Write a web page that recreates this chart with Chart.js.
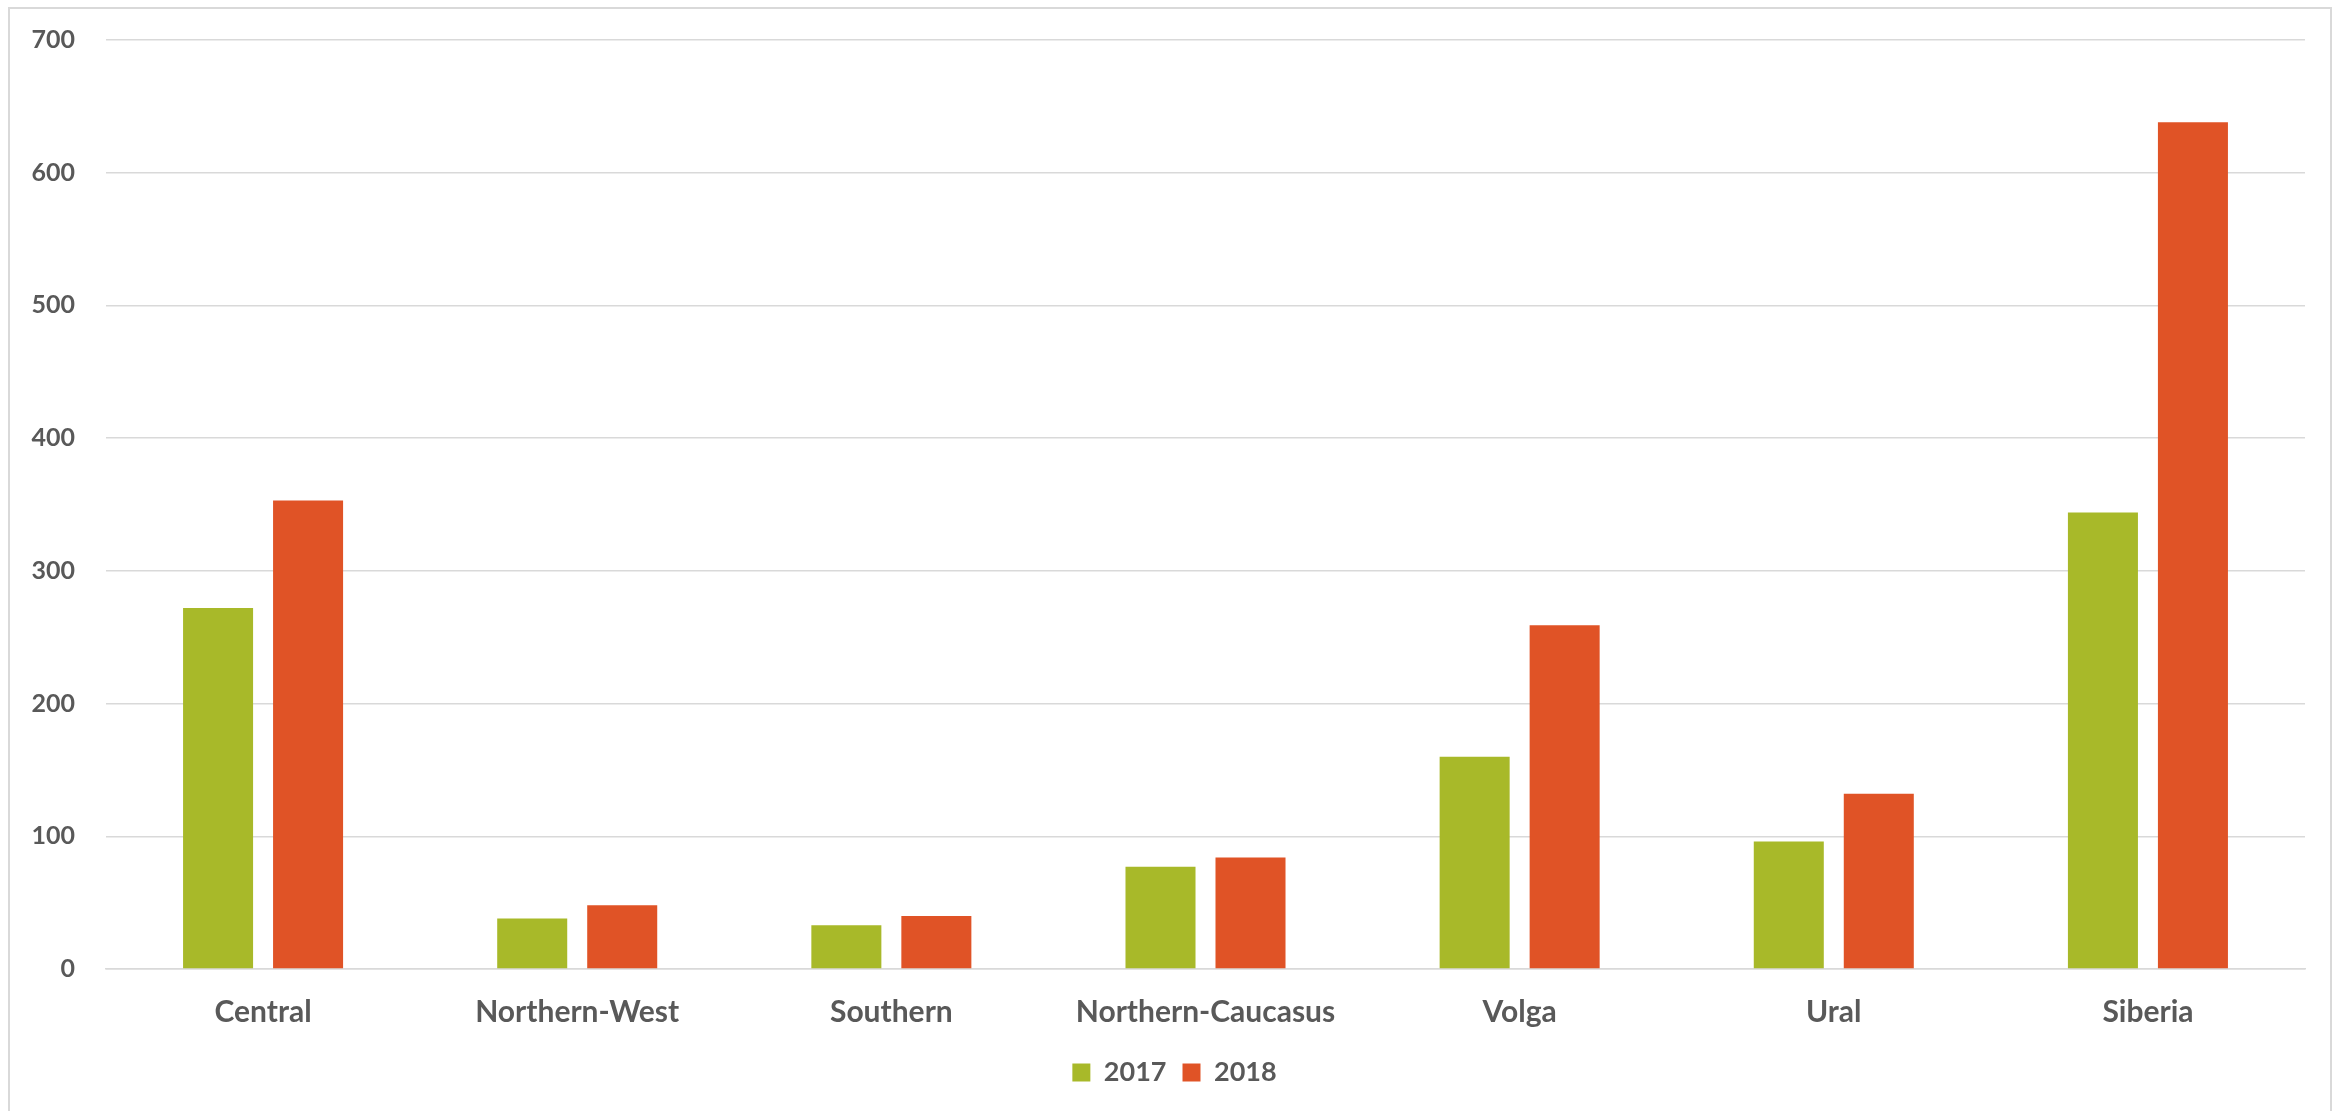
<!DOCTYPE html>
<html>
<head>
<meta charset="utf-8">
<script src="https://cdn.jsdelivr.net/npm/chart.js@4/dist/chart.umd.min.js"></script>
<style>
  html, body { margin: 0; padding: 0; background: #ffffff; overflow: hidden; }
  #frame { position: absolute; left: 8px; top: 7px; width: 2324px; height: 1120px; border: 2px solid #d9d9d9; box-sizing: border-box; }
  #c { position: absolute; left: 0; top: 0; }
</style>
</head>
<body>
<div id="frame"></div>
<canvas id="c" width="2346" height="1111"></canvas>
<script>
const categories = ["Central", "Northern-West", "Southern", "Northern-Caucasus", "Volga", "Ural", "Siberia"];
const values2017 = [272, 38, 33, 77, 160, 96, 344];
const values2018 = [353, 48, 40, 84, 259, 132, 638];
const seriesLabels = ["2017", "2018"];
const yTicks = [0, 100, 200, 300, 400, 500, 600, 700];

const textColor = "#595959";
const gridColor = "#d9d9d9";
const fontFamily = "Lato, 'Open Sans', sans-serif";

const legendShift = {
  id: "legendShift",
  afterLayout(chart) {
    if (chart.legend) { chart.legend.left += 22; chart.legend.right += 22; }
  }
};

new Chart(document.getElementById("c"), {
  type: "bar",
  data: {
    labels: categories,
    datasets: [
      { label: seriesLabels[0], data: values2017, backgroundColor: "#a8b929", borderWidth: 0,
        categoryPercentage: 0.573, barPercentage: 0.778 },
      { label: seriesLabels[1], data: values2018, backgroundColor: "#e05326", borderWidth: 0,
        categoryPercentage: 0.573, barPercentage: 0.778 }
    ]
  },
  plugins: [legendShift],
  options: {
    responsive: false,
    animation: false,
    devicePixelRatio: 1,
    layout: { padding: { left: 0, right: 41, top: 40, bottom: 15 } },
    plugins: {
      legend: {
        position: "bottom",
        labels: {
          boxWidth: 18, boxHeight: 18, padding: 16,
          color: textColor,
          font: { family: fontFamily, size: 27, weight: "bold" }
        }
      },
      tooltip: { enabled: false }
    },
    scales: {
      x: {
        grid: { display: false },
        border: { display: true, color: gridColor, width: 1.5 },
        ticks: { color: textColor, padding: 17, maxRotation: 0,
                 font: { family: fontFamily, size: 30, weight: "bold" } },
        afterFit: (scale) => { scale.height = 74; }
      },
      y: {
        min: yTicks[0], max: yTicks[yTicks.length - 1],
        afterBuildTicks: (scale) => { scale.ticks = yTicks.map(v => ({ value: v })); },
        grid: { color: gridColor, lineWidth: 1.5, drawTicks: false },
        border: { display: false },
        ticks: { color: textColor, padding: 31,
                 font: { family: fontFamily, size: 25, weight: "bold" } },
        afterFit: (scale) => { scale.width = 106; scale.paddingTop = 0; scale.paddingBottom = 0; }
      }
    }
  }
});
</script>
</body>
</html>
